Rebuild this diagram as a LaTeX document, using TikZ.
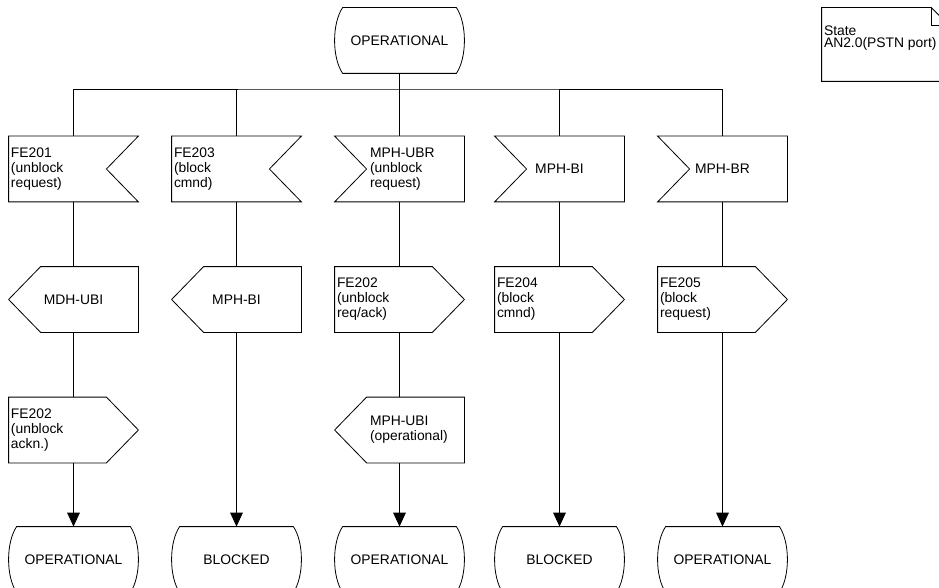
\documentclass[tikz,border=0pt]{standalone}
\usepackage{fontspec}
\setmainfont{Liberation Sans}
\usetikzlibrary{calc,arrows.meta}

\tikzset{
  sym/.style={minimum width=96.75pt,minimum height=48.75pt,inner xsep=1.5pt,inner ysep=0pt,
    font=\fontsize{10.4}{11.2}\selectfont},
  txtl/.style={sym,text width=93.75pt,align=left},
  txtc/.style={sym,align=center},
  freetxt/.style={inner sep=0pt,align=left,font=\fontsize{10.4}{11.2}\selectfont},
  flow/.style={-{Triangle[width=9.5pt,length=10.5pt]}}
}

\begin{document}
\begin{tikzpicture}[x=0.75pt,y=-0.75pt,line width=0.6pt]
\useasboundingbox (0,0) rectangle (939,588);

% start state
\node[txtc] (op0) at (399.5,40.5) {OPERATIONAL};

% inputs
\node[txtl] (in1) at (73.5,169) {FE201\\(unblock\\request)};
\node[txtl] (in2) at (236.5,169) {FE203\\(block\\cmnd)};
\node[sym] (in3) at (399.5,169) {};
\node[freetxt,anchor=west] (in3txt) at ($(in3.west)+(35,0)$) {MPH-UBR\\(unblock\\request)};
\node[txtc] (in4) at (559.5,169) {MPH-BI};
\node[txtc] (in5) at (722.5,169) {MPH-BR};

% outputs
\node[txtc] (out1) at (73.5,299.5) {MDH-UBI};
\node[txtc] (out2) at (236.5,299.5) {MPH-BI};
\node[txtl] (out3) at (399.5,299.5) {FE202\\(unblock\\req/ack)};
\node[txtl] (out4) at (559.5,299.5) {FE204\\(block\\cmnd)};
\node[txtl] (out5) at (722.5,299.5) {FE205\\(block\\request)};
\node[txtl] (out1b) at (73.5,430) {FE202\\(unblock\\ackn.)};
\node[sym] (out3b) at (399.5,430) {};
\node[freetxt,anchor=west] (out3btxt) at ($(out3b.west)+(35,0)$) {MPH-UBI\\(operational)};

% next states
\node[txtc] (st1) at (73.5,559.5) {OPERATIONAL};
\node[txtc] (st2) at (236.5,559.5) {BLOCKED};
\node[txtc] (st3) at (399.5,559.5) {OPERATIONAL};
\node[txtc] (st4) at (559.5,559.5) {BLOCKED};
\node[txtc] (st5) at (722.5,559.5) {OPERATIONAL};

% comment
\node[minimum width=95.25pt,minimum height=54.75pt] (note) at (885.5,44.5) {};
\node[freetxt,font=\fontsize{10.4}{9}\selectfont,anchor=west] (notetxt) at ($(note.west)+(2,-6)$) {State\\AN2.0(PSTN port)};

% symbol outlines
\foreach \n in {in1,in2}
  \draw (\n.north west) -- (\n.north east) -- ($(\n.east)+(-32,0)$) -- (\n.south east) -- (\n.south west) -- cycle;
\foreach \n in {in3,in4,in5}
  \draw (\n.north west) -- (\n.north east) -- (\n.south east) -- (\n.south west) -- ($(\n.west)+(32,0)$) -- cycle;
\foreach \n in {out3,out4,out5,out1b}
  \draw (\n.north west) -- ($(\n.north east)+(-32,0)$) -- (\n.east) -- ($(\n.south east)+(-32,0)$) -- (\n.south west) -- cycle;
\foreach \n in {out1,out2,out3b}
  \draw ($(\n.north west)+(32,0)$) -- (\n.north east) -- (\n.south east) -- ($(\n.south west)+(32,0)$) -- (\n.west) -- cycle;
\foreach \n in {op0,st1,st2,st3,st4,st5}
  \draw ($(\n.north west)+(8,0)$) -- ($(\n.north east)+(-8,0)$)
    .. controls ($(\n.north east)+(2.7,16)$) and ($(\n.south east)+(2.7,-16)$) .. ($(\n.south east)+(-8,0)$)
    -- ($(\n.south west)+(8,0)$)
    .. controls ($(\n.south west)+(-2.7,-16)$) and ($(\n.north west)+(-2.7,16)$) .. ($(\n.north west)+(8,0)$) -- cycle;
\draw (note.north west) -- ($(note.north east)+(-18,0)$) -- ($(note.north east)+(0,18)$) -- (note.south east) -- (note.south west) -- cycle;
\draw ($(note.north east)+(-18,0)$) -- ($(note.north east)+(-18,18)$) -- ($(note.north east)+(0,18)$);

% connectors
\coordinate (bus) at (399.5,89);
\draw (op0) -- (op0.south |- bus);
\draw (in1.north) |- (bus) -| (in5.north);
\draw (in2.north) -- (in2.north |- bus);
\draw (in3.north) -- (in3.north |- bus);
\draw (in4.north) -- (in4.north |- bus);

\draw (in1) -- (out1);
\draw (out1) -- (out1b);
\draw[flow] (out1b) -- (st1);
\draw (in2) -- (out2);
\draw[flow] (out2) -- (st2);
\draw (in3) -- (out3);
\draw (out3) -- (out3b);
\draw[flow] (out3b) -- (st3);
\draw (in4) -- (out4);
\draw[flow] (out4) -- (st4);
\draw (in5) -- (out5);
\draw[flow] (out5) -- (st5);
\end{tikzpicture}
\end{document}
